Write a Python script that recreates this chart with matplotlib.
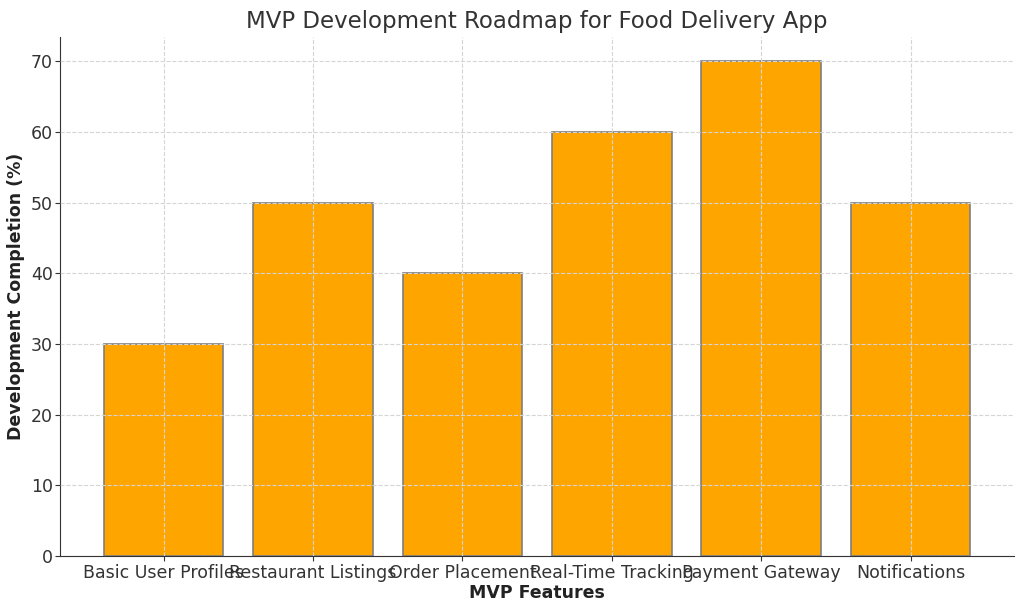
import matplotlib
matplotlib.use("Agg")
import matplotlib.pyplot as plt

# ------------------- Data -------------------
features = ["Basic User Profiles", "Restaurant Listings", "Order Placement",
            "Real-Time Tracking", "Payment Gateway", "Notifications"]
completion = [30, 50, 40, 60, 70, 50]

# ------------------- Plot -------------------
fig, ax = plt.subplots(figsize=(10.24, 6.11), dpi=100)
ax.bar(features, completion, color="#FFA500", edgecolor="#7f7f7f", linewidth=1.2)

ax.set_title("MVP Development Roadmap for Food Delivery App", fontsize=16.5, color="#333333")
ax.set_xlabel("MVP Features", fontsize=12.5, fontweight="bold", color="#222222", labelpad=2)
ax.set_ylabel("Development Completion (%)", fontsize=12.5, fontweight="bold", color="#222222", labelpad=4)
ax.tick_params(labelsize=12.5, colors="#333333", pad=2)
ax.grid(True, linestyle="--", color="#d5d5d5", linewidth=0.8)
ax.set_axisbelow(False)
for s in ["top", "right"]:
    ax.spines[s].set_visible(False)
for s in ["left", "bottom"]:
    ax.spines[s].set_color("#333333")

plt.subplots_adjust(left=0.059, right=0.99, top=0.94, bottom=0.09)
plt.savefig("out.png", dpi=100)
